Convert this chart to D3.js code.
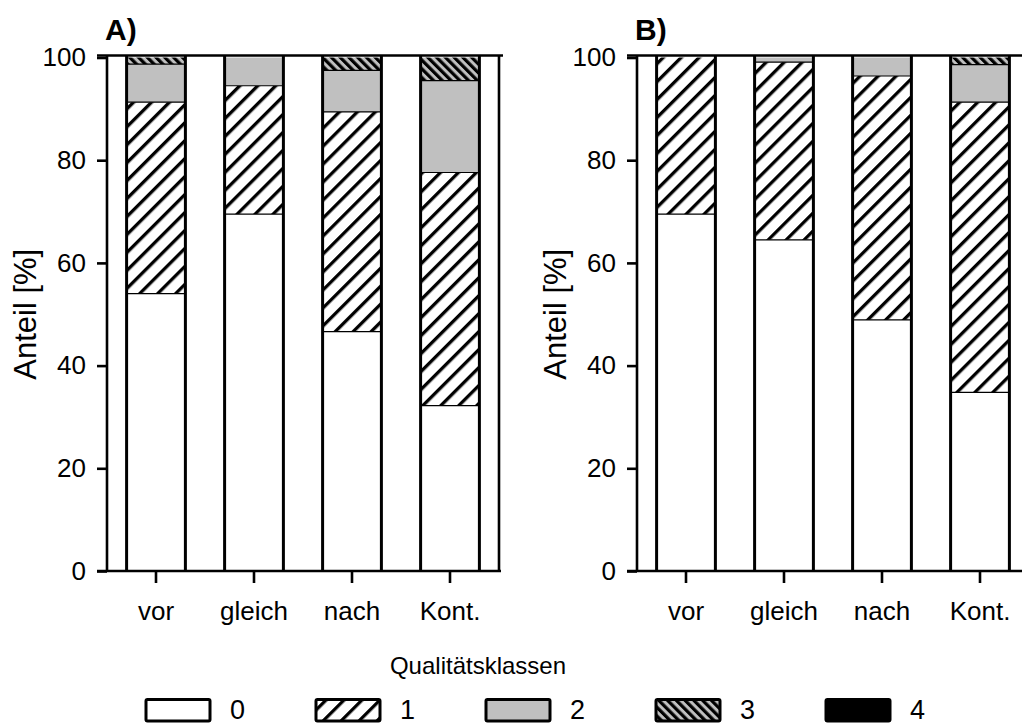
<!DOCTYPE html>
<html><head><meta charset="utf-8">
<script src="https://cdn.jsdelivr.net/npm/d3@7"></script>
<style>body{margin:0;background:#fff}svg{display:block;font-family:"Liberation Sans",Arial,sans-serif}</style>
</head><body><svg id="c" width="1022" height="725"></svg>
<script>
const categories = ["vor","gleich","nach","Kont."];
const classes = ["0","1","2","3","4"];
const yTicks = [0,20,40,60,80,100];
const panelLabels = ["A)","B)"];
// segment shares in % per class, per category (vor, gleich, nach, Kont.)
const A_class0 = [54.0, 69.5, 46.6, 32.2];
const A_class1 = [37.3, 25.0, 42.8, 45.4];
const A_class2 = [ 7.4,  5.5,  8.1, 17.9];
const A_class3 = [ 1.3,  0.0,  2.5,  4.5];
const A_class4 = [ 0.0,  0.0,  0.0,  0.0];
const B_class0 = [69.5, 64.5, 48.9, 34.8];
const B_class1 = [30.5, 34.6, 47.5, 56.5];
const B_class2 = [ 0.0,  0.9,  3.6,  7.3];
const B_class3 = [ 0.0,  0.0,  0.0,  1.4];
const B_class4 = [ 0.0,  0.0,  0.0,  0.0];

const panels = [
  {label: panelLabels[0], series: [A_class0,A_class1,A_class2,A_class3,A_class4], x0: 107},
  {label: panelLabels[1], series: [B_class0,B_class1,B_class2,B_class3,B_class4], x0: 637}
];

const svg = d3.select("#c");
const defs = svg.append("defs");
function hatch(id, angle, spacing, lw, bg) {
  const p = defs.append("pattern").attr("id", id).attr("patternUnits","userSpaceOnUse")
    .attr("width", spacing).attr("height", spacing).attr("patternTransform", `rotate(${angle})`);
  p.append("rect").attr("width", spacing).attr("height", spacing).attr("fill", bg);
  p.append("rect").attr("x", 0).attr("width", lw).attr("height", spacing).attr("fill", "#000");
}
hatch("h1", 45, 12.7, 3.3, "#fff");
hatch("h3", -45, 6.2, 3.2, "#c0c0c0");
const fills = ["#fff", "url(#h1)", "#c0c0c0", "url(#h3)", "#000"];

const y = d3.scaleLinear().domain([0,100]).range([571, 57.5]);
const frameTop = 55.5;
const frameW = 392;
const FONT = "Liberation Sans, Arial, sans-serif";

panels.forEach(pn => {
  const x = d3.scaleBand().domain(categories).range([pn.x0, pn.x0 + frameW]).paddingInner(0.4).paddingOuter(0.2);
  const g = svg.append("g");
  const stacked = d3.stack().keys(d3.range(classes.length))
    .value((d, k) => pn.series[k][d])(d3.range(categories.length));

  stacked.forEach((layer, k) => {
    g.selectAll(null).data(layer).join("rect")
      .attr("x", (d, i) => x(categories[i]))
      .attr("width", x.bandwidth())
      .attr("y", d => y(d[1]))
      .attr("height", d => Math.max(0, y(d[0]) - y(d[1])))
      .attr("fill", fills[k]);
  });
  stacked.slice(0, -1).forEach((layer, k) => {
    g.selectAll(null).data(layer.filter((d,i) => d[1] < 100 && pn.series[k][i] > 0)).join("line")
      .attr("x1", d => x(categories[d.data]))
      .attr("x2", d => x(categories[d.data]) + x.bandwidth())
      .attr("y1", d => y(d[1])).attr("y2", d => y(d[1]))
      .attr("stroke", "#000").attr("stroke-width", 1.2);
  });
  categories.forEach(c => {
    [x(c), x(c) + x.bandwidth()].forEach(xx => {
      g.append("line").attr("x1", xx).attr("x2", xx).attr("y1", frameTop).attr("y2", y(0))
        .attr("stroke", "#000").attr("stroke-width", 3);
    });
  });
  g.append("line").attr("x1", pn.x0 - 10).attr("x2", pn.x0 + frameW + 4).attr("y1", frameTop).attr("y2", frameTop)
    .attr("stroke", "#000").attr("stroke-width", 2.6);
  g.append("line").attr("x1", pn.x0 + frameW).attr("x2", pn.x0 + frameW).attr("y1", frameTop).attr("y2", y(0))
    .attr("stroke", "#000").attr("stroke-width", 2.6);

  const ya = g.append("g").attr("transform", `translate(${pn.x0},0)`)
    .call(d3.axisLeft(y).tickValues(yTicks).tickSize(10).tickSizeOuter(0).tickPadding(11));
  ya.select(".domain").attr("stroke-width", 2.6).attr("d", `M0,${frameTop}V${y(0)}`);
  ya.selectAll(".tick line").attr("stroke-width", 2.6);
  ya.selectAll(".tick text").attr("font-size", 26).attr("fill", "#000").attr("font-family", FONT);

  const xa = g.append("g").attr("transform", `translate(0,${y(0)})`)
    .call(d3.axisBottom(x).tickSize(12).tickSizeOuter(0).tickPadding(19));
  xa.select(".domain").attr("stroke-width", 2.6).attr("d", `M${pn.x0 - 10},0H${pn.x0 + frameW + 2}`);
  xa.selectAll(".tick line").attr("stroke-width", 2.6);
  xa.selectAll(".tick text").attr("font-size", 26).attr("fill", "#000").attr("font-family", FONT);

  svg.append("text").attr("transform", `translate(${pn.x0 - 71},${y(50)}) rotate(-90)`)
    .attr("text-anchor", "middle").attr("font-size", 31).text("Anteil [%]");
  svg.append("text").attr("x", pn.x0 - 2).attr("y", 40).attr("font-size", 30).attr("font-weight", "bold").text(pn.label);
});

svg.append("text").attr("x", 478).attr("y", 674).attr("text-anchor", "middle").attr("font-size", 24).text("Qualitätsklassen");
const legX = d3.scalePoint().domain(classes).range([146, 826]);
const lg = svg.append("g");
classes.forEach((c, k) => {
  lg.append("rect").attr("x", legX(c)).attr("y", 699.5).attr("width", 64).attr("height", 21.5)
    .attr("rx", 1.5).attr("fill", fills[k]).attr("stroke", "#000").attr("stroke-width", 3);
  lg.append("text").attr("x", legX(c) + 84).attr("y", 718.5).attr("font-size", 27).text(c);
});
</script></body></html>
